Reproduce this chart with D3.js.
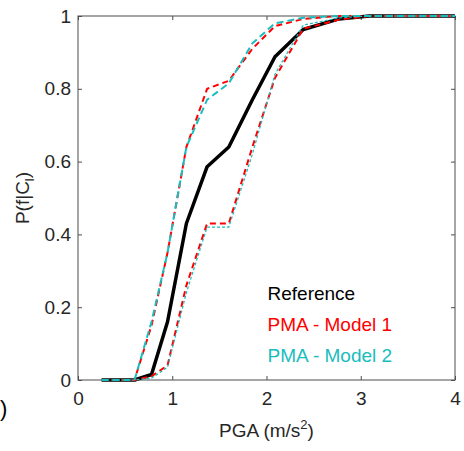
<!DOCTYPE html>
<html lang="en">
<head>
<meta charset="UTF-8">
<title>P(f|C) vs PGA</title>
<script src="https://d3js.org/d3.v7.min.js"></script>
<style>
  body { margin: 0; background: #fff; }
  svg text { font-family: "Liberation Sans", Arial, sans-serif; }
</style>
</head>
<body>
<svg width="464" height="451"></svg>
<script>
// values
const pga = [0.25, 0.6, 0.78, 0.95, 1.15, 1.37, 1.6, 1.85, 2.09, 2.39, 2.77, 3.09, 4.0];
const reference   = [0, 0, 0.015, 0.16, 0.43, 0.586, 0.64, 0.77, 0.888, 0.963, 0.992, 1, 1];
const model1Upper = [0, 0, 0.15, 0.35, 0.64, 0.80, 0.822, 0.91, 0.972, 0.992, 1, 1, 1];
const model2Upper = [0, 0, 0.16, 0.35, 0.64, 0.77, 0.815, 0.925, 0.98, 0.995, 1, 1, 1];
const model1Lower = [0, 0, 0.01, 0.04, 0.26, 0.43, 0.43, 0.64, 0.83, 0.965, 0.99, 1, 1];
const model2Lower = [0, 0, 0.005, 0.035, 0.24, 0.42, 0.42, 0.62, 0.84, 0.975, 0.995, 1, 1];
const xTicks = [0, 1, 2, 3, 4];
const yTicks = [0, 0.2, 0.4, 0.6, 0.8, 1];
const legendLabels = ["Reference", "PMA - Model 1", "PMA - Model 2"];

const red = "#ff0000", cyan = "#19bdbd";

const margin = {top: 16, right: 9, bottom: 71, left: 78},
      width = 464 - margin.left - margin.right,
      height = 451 - margin.top - margin.bottom;

const svg = d3.select("svg")
  .append("g")
    .attr("transform", `translate(${margin.left},${margin.top})`);

const x = d3.scaleLinear().domain([0, 4]).range([0, width]);
const y = d3.scaleLinear().domain([0, 1]).range([height, 0]);

const line = d3.line().x(d => x(d[0])).y(d => y(d[1]));
const pts = vals => pga.map((p, i) => [p, vals[i]]);

// box + ticks (inward, all four sides)
const axisColor = "#4d4d4d";
svg.append("rect")
  .attr("width", width).attr("height", height)
  .attr("fill", "none").attr("stroke", axisColor).attr("stroke-width", 1);

function styleAxis(g) {
  g.select(".domain").remove();
  g.selectAll(".tick line").attr("stroke", axisColor);
  g.selectAll(".tick text").attr("fill", "#262626").attr("font-size", 19);
}

svg.append("g")
  .attr("transform", `translate(0,${height})`)
  .call(d3.axisBottom(x).tickValues(xTicks).tickFormat(d3.format("d")).tickSizeInner(-4).tickPadding(12))
  .call(styleAxis);
svg.append("g")
  .call(d3.axisTop(x).tickValues(xTicks).tickFormat("").tickSizeInner(-4))
  .call(styleAxis);
svg.append("g")
  .call(d3.axisLeft(y).tickValues(yTicks).tickFormat(d => d === 0 || d === 1 ? d : d.toFixed(1)).tickSizeInner(-4).tickPadding(7))
  .call(styleAxis);
svg.append("g")
  .attr("transform", `translate(${width},0)`)
  .call(d3.axisRight(y).tickValues(yTicks).tickFormat("").tickSizeInner(-4))
  .call(styleAxis);

// curves
svg.append("path").datum(pts(reference))
  .attr("d", line).attr("fill", "none")
  .attr("stroke", "#000").attr("stroke-width", 3.5).attr("stroke-linejoin", "round");

[model1Upper, model1Lower].forEach(v => {
  svg.append("path").datum(pts(v))
    .attr("d", line).attr("fill", "none")
    .attr("stroke", red).attr("stroke-width", 2)
    .attr("stroke-dasharray", "6,4");
});

svg.append("path").datum(pts(model2Upper))
  .attr("d", line).attr("fill", "none")
  .attr("stroke", cyan).attr("stroke-width", 2)
  .attr("stroke-dasharray", "7,4");

svg.append("path").datum(pts(model2Lower))
  .attr("d", line).attr("fill", "none")
  .attr("stroke", cyan).attr("stroke-width", 1.2)
  .attr("stroke-dasharray", "3,2");

// legend (text only)
const legColors = ["#000", red, cyan];
svg.selectAll(".leg")
  .data(legendLabels)
  .join("text")
    .attr("class", "leg")
    .attr("x", x(2.0) + 1)
    .attr("y", (d, i) => y(0.22) + i * 31)
    .attr("font-size", 19)
    .attr("fill", (d, i) => legColors[i])
    .text(d => d);

// axis labels
const xl = svg.append("text")
  .attr("x", width / 2)
  .attr("y", height + 57)
  .attr("text-anchor", "middle")
  .attr("font-size", 19)
  .attr("fill", "#262626");
xl.append("tspan").text("PGA (m/s");
xl.append("tspan").attr("dy", -8).attr("font-size", 13).text("2");
xl.append("tspan").attr("dy", 8).text(")");

const yl = svg.append("text")
  .attr("transform", `translate(-49,${height / 2}) rotate(-90)`)
  .attr("text-anchor", "middle")
  .attr("font-size", 19)
  .attr("fill", "#262626");
yl.append("tspan").text("P(f|C");
yl.append("tspan").attr("dy", 5).attr("font-size", 13).text("l");
yl.append("tspan").attr("dy", -5).text(")");

// panel tag at bottom left (only its closing bracket shows in the original)
d3.select("svg").append("text")
  .attr("x", 0).attr("y", 416)
  .attr("font-size", 22)
  .attr("fill", "#000")
  .text(")");
</script>
</body>
</html>
